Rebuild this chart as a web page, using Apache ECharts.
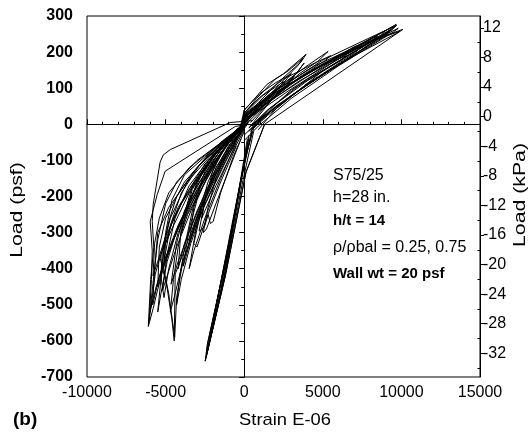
<!DOCTYPE html>
<html>
<head>
<meta charset="utf-8">
<script src="https://cdn.jsdelivr.net/npm/echarts@6/dist/echarts.min.js"></script>
<style>
html,body{margin:0;padding:0;background:#fff;}
#chart{width:532px;height:432px;}
</style>
</head>
<body>
<div id="chart"></div>
<script>
// ---- axis ticks ----
const xTicks = [-10000, -5000, 0, 5000, 10000, 15000];
const psfTicks = [-700, -600, -500, -400, -300, -200, -100, 0, 100, 200, 300];
const kpaTicks = [-32, -28, -24, -20, -16, -12, -8, -4, 0, 4, 8, 12];
const kpaMinor = [-34, -30, -26, -22, -18, -14, -10, -6, -2, 2, 6, 10];

// ---- hysteresis traces: [strain E-06, load psf] ----
const pos01 = [[-300,-25],[0,12],[2000,75],[5000,160],[8000,235],[9670,277],[9300,258],[6000,165],[3000,80],[1000,15],[300,-20]];
const pos02 = [[-200,-10],[0,20],[2500,100],[6000,190],[9480,271],[9000,250],[5500,152],[2000,50],[700,0],[0,-30]];
const pos03 = [[-100,0],[0,25],[1500,75],[4000,140],[7000,215],[10100,263],[1300,0],[130,-130],[-1200,-420],[-2480,-656]];
const pos04 = [[-400,-30],[0,8],[3000,98],[6500,195],[9800,266],[9500,256],[6000,162],[3000,72],[900,-5],[0,-45]];
const pos05 = [[-300,-20],[0,22],[2000,88],[5000,168],[9160,252],[8800,240],[5000,138],[2000,48],[500,-12]];
const pos06 = [[-200,-10],[0,30],[800,72],[1970,125],[2800,148],[3750,183],[3400,162],[2500,122],[1000,52],[0,5]];
const pos07 = [[-100,5],[0,38],[1460,111],[2500,140],[3940,194],[3600,172],[2200,118],[800,55],[-100,10]];
const pos08 = [[0,15],[1500,80],[3000,130],[4100,165],[5340,202],[4700,175],[3500,140],[1500,60],[0,-5]];
const pos09 = [[0,10],[2500,95],[3820,170],[3400,145],[1800,70],[400,5]];
const pos10 = [[0,12],[3000,112],[6000,192],[7500,218],[7100,200],[4000,112],[1500,25],[500,-15]];
const pos11 = [[-200,-5],[0,18],[4000,142],[8500,245],[8200,234],[5000,148],[2000,42],[900,-15]];
const pos12 = [[-300,-15],[0,28],[2000,95],[4500,162],[7000,212],[9000,260],[8700,245],[6000,175],[3000,95],[500,-5]];
const pos13 = [[-200,0],[0,40],[1000,85],[2000,115],[3000,140],[2600,120],[1200,60],[0,10]];
const pos14 = [[0,0],[1200,60],[2200,100],[3200,135],[2800,110],[1600,60],[300,-10]];
const pos15 = [[-200,-5],[0,15],[3500,120],[7000,205],[9300,262],[9000,252],[6500,178],[3500,95],[1200,20],[400,-20]];
const pos16 = [[-100,5],[0,22],[3000,115],[5500,175],[8000,228],[9900,258],[9600,250],[7000,190],[4000,112],[1500,30],[600,-10]];
const pos17 = [[0,20],[1500,75],[4500,155],[6500,190],[6200,178],[4000,125],[1500,40],[300,-10]];
const pos18 = [[-100,10],[0,32],[1000,75],[2500,125],[4500,170],[5500,190],[5200,178],[3500,130],[1500,60],[0,5]];
const pos19 = [[0,25],[2000,92],[5000,178],[8000,240],[9700,274],[9400,262],[7000,200],[4000,120],[1500,40],[500,-5]];
const pos20 = [[-200,0],[0,28],[1200,80],[2500,118],[2200,100],[1000,45],[0,0]];

const neg01 = [[500,10],[-890,5],[-4700,-70],[-5150,-85],[-5350,-105],[-5790,-222],[-5850,-269],[-5750,-340],[-5950,-430],[-6100,-560],[-5790,-510],[-5530,-462],[-5150,-400],[-4500,-320],[-3500,-210],[-2000,-100],[-500,-20],[200,10]];
const neg02 = [[300,0],[-570,-6],[-5030,-130],[-5530,-194],[-5980,-269],[-5850,-350],[-5900,-430],[-6050,-545],[-5660,-415],[-5300,-360],[-4600,-290],[-3500,-190],[-2000,-90],[-500,-15],[300,5]];
const neg03 = [[200,0],[-250,-28],[-2000,-80],[-3630,-160],[-4700,-260],[-5340,-371],[-4900,-454],[-4600,-540],[-4450,-600],[-4390,-415],[-3630,-330],[-2800,-230],[-1500,-110],[0,-10]];
const neg04 = [[100,0],[-1000,-40],[-2500,-110],[-4200,-230],[-5000,-320],[-5200,-380],[-4800,-470],[-4420,-590],[-4300,-480],[-3900,-380],[-3000,-260],[-1800,-140],[-500,-40],[200,5]];
const neg05 = [[0,0],[-1500,-50],[-3000,-120],[-4800,-230],[-5500,-300],[-5700,-400],[-5820,-500],[-5450,-430],[-5000,-370],[-4000,-270],[-2500,-150],[-1000,-50],[200,5]];
const neg06 = [[0,0],[-1200,-50],[-2500,-120],[-3800,-240],[-4300,-330],[-4650,-443],[-4200,-380],[-3500,-300],[-2500,-190],[-1200,-80],[100,0]];
const neg07 = [[0,-5],[-1000,-50],[-2000,-110],[-3000,-210],[-3500,-290],[-3880,-393],[-3400,-320],[-2600,-220],[-1500,-120],[-300,-25]];
const neg08 = [[0,-10],[-800,-50],[-1800,-120],[-2500,-210],[-2870,-296],[-2700,-292],[-2500,-280],[-2290,-250],[-2150,-275],[-1970,-269],[-1500,-190],[-700,-90],[0,-20]];
const neg09 = [[0,0],[-1500,-55],[-3200,-130],[-4300,-200],[-4800,-270],[-5210,-352],[-5300,-420],[-5100,-480],[-4800,-400],[-4200,-300],[-3000,-190],[-1500,-80],[0,0]];
const neg10 = [[0,0],[-1500,-70],[-2600,-150],[-3200,-230],[-3500,-330],[-3100,-270],[-2200,-170],[-1000,-70],[0,-5]];
const neg11 = [[0,5],[-1800,-70],[-3300,-170],[-4000,-280],[-4200,-400],[-3800,-330],[-3000,-240],[-1800,-130],[-600,-40]];
const neg12 = [[0,0],[-2000,-70],[-3800,-160],[-5000,-260],[-5400,-340],[-5500,-450],[-5200,-400],[-4600,-330],[-3600,-230],[-2000,-110],[-500,-20]];
const neg13 = [[0,0],[-2000,-90],[-3300,-180],[-4000,-300],[-3600,-250],[-2500,-160],[-1000,-50]];
const neg14 = [[0,0],[-1000,-60],[-2000,-140],[-2700,-230],[-3200,-330],[-3000,-340],[-2400,-260],[-1500,-160],[-500,-60]];
const neg15 = [[200,5],[-1500,-60],[-2500,-130],[-3200,-220],[-3700,-320],[-4100,-420],[-4300,-500],[-4000,-430],[-3400,-330],[-2500,-220],[-1300,-110],[0,-10]];
const neg16 = [[0,0],[-2500,-90],[-3800,-140],[-4600,-210],[-5000,-300],[-5300,-430],[-5500,-520],[-5300,-470],[-4900,-380],[-4200,-280],[-3000,-170],[-1500,-70],[0,0]];
const neg17 = [[100,0],[-3000,-100],[-4300,-160],[-5000,-220],[-5500,-320],[-5800,-440],[-6000,-520],[-5600,-450],[-5100,-380],[-4300,-290],[-3000,-180],[-1500,-80],[0,0]];
const neg18 = [[0,-5],[-1200,-60],[-2000,-130],[-2500,-210],[-2700,-260],[-2500,-240],[-1800,-170],[-900,-90],[0,-15]];
const neg19 = [[0,0],[-1500,-80],[-2300,-160],[-2900,-250],[-3300,-350],[-3500,-400],[-3200,-350],[-2500,-260],[-1500,-150],[-500,-50]];
const neg20 = [[0,0],[-2200,-95],[-3500,-170],[-4400,-260],[-4900,-360],[-5200,-460],[-4900,-420],[-4300,-340],[-3300,-230],[-2000,-120],[-500,-20]];
const neg21 = [[0,5],[-1800,-80],[-3000,-160],[-3800,-260],[-4200,-340],[-4500,-430],[-4700,-520],[-4400,-470],[-3900,-380],[-3000,-270],[-1700,-150],[-300,-25]];
const neg22 = [[200,5],[-3500,-120],[-4800,-190],[-5400,-260],[-5700,-330],[-5800,-420],[-5500,-380],[-5000,-310],[-4000,-220],[-2500,-120],[-800,-30]];
const neg23 = [[0,0],[-1000,-70],[-1800,-150],[-2300,-230],[-2600,-300],[-2400,-290],[-1800,-220],[-1000,-130],[-200,-40]];
const neg24 = [[0,0],[-2800,-110],[-4000,-190],[-4700,-280],[-5100,-380],[-5000,-330],[-4500,-260],[-3500,-180],[-2000,-90],[-400,-10]];

const st01 = [[1300,0],[100,-135],[-1200,-420],[-2480,-656],[-2350,-610],[-1100,-365],[-100,-130],[500,-20]];
const st02 = [[500,-10],[-150,-150],[-1300,-435],[-2420,-645],[-2300,-602],[-1000,-345],[0,-105],[700,5]];
const st03 = [[300,-30],[-250,-165],[-1400,-450],[-2350,-632],[-2200,-585],[-900,-315],[100,-85]];
const st04 = [[200,-40],[-350,-185],[-1500,-460],[-2200,-600],[-2100,-570],[-800,-290],[200,-60]];
const st05 = [[600,-20],[-100,-160],[-1100,-390],[-2000,-560],[-1900,-530],[-700,-260],[300,-40]];

const traces = [pos01,pos02,pos03,pos04,pos05,pos06,pos07,pos08,pos09,pos10,pos11,pos12,pos13,pos14,pos15,pos16,pos17,pos18,pos19,pos20,
  neg01,neg02,neg03,neg04,neg05,neg06,neg07,neg08,neg09,neg10,neg11,neg12,neg13,neg14,neg15,neg16,neg17,neg18,neg19,neg20,neg21,neg22,neg23,neg24,
  st01,st02,st03,st04,st05];

const FONT = '"Liberation Sans", Arial, sans-serif';
const INK = '#000';

const chart = echarts.init(document.getElementById('chart'), null, {renderer: 'canvas'});

const series = traces.map((t) => ({
  type: 'line',
  data: t,
  xAxisIndex: 0,
  yAxisIndex: 0,
  showSymbol: false,
  symbol: 'none',
  silent: true,
  animation: false,
  lineStyle: {color: INK, width: 1},
  z: 3
}));
series.push({
  type: 'line', data: [], xAxisIndex: 0, yAxisIndex: 0, silent: true, animation: false,
  markLine: {
    silent: true, symbol: 'none', animation: false,
    label: {show: false},
    lineStyle: {color: INK, width: 1, type: 'solid'},
    data: [{xAxis: 0}, {yAxis: 0}]
  }
});

const option = {
  backgroundColor: '#fff',
  animation: false,
  grid: {left: 87, top: 16, width: 393, height: 361, show: true, borderColor: INK, borderWidth: 1, backgroundColor: 'transparent', outerBoundsMode: 'none', containLabel: false},
  xAxis: [{
    type: 'value', min: -10000, max: 15000, interval: 5000,
    axisLine: {show: true, lineStyle: {color: INK, width: 1}},
    axisTick: {show: true, inside: true, length: 5, lineStyle: {color: INK}},
    minorTick: {show: true, splitNumber: 5, length: 2.5, lineStyle: {color: INK}},
    splitLine: {show: false},
    axisLabel: {show: true, margin: 8, color: INK, fontFamily: FONT, fontSize: 16, formatter: (v) => String(v)}
  }],
  yAxis: [{
    type: 'value', position: 'left', min: -700, max: 300, interval: 100,
    axisLine: {show: true, lineStyle: {color: INK, width: 1}},
    axisTick: {show: true, inside: false, length: 5, lineStyle: {color: INK}},
    minorTick: {show: true, splitNumber: 2, length: 3, lineStyle: {color: INK}},
    splitLine: {show: false},
    axisLabel: {show: true, margin: 14, color: INK, fontFamily: FONT, fontSize: 16, fontWeight: 'bold', formatter: (v) => String(v)}
  }, {
    type: 'value', position: 'right', min: -35.2, max: 13.6,
    axisLine: {show: true, lineStyle: {color: INK, width: 1}},
    axisTick: {show: true, inside: false, length: 4, customValues: kpaTicks, lineStyle: {color: INK}},
    splitLine: {show: false},
    axisLabel: {show: true, margin: 3, color: INK, fontFamily: FONT, fontSize: 16, customValues: kpaTicks, formatter: (v) => String(v)}
  }, {
    type: 'value', position: 'right', min: -35.2, max: 13.6,
    axisLine: {show: false},
    axisTick: {show: true, inside: true, length: 2.5, customValues: kpaMinor, lineStyle: {color: INK}},
    splitLine: {show: false},
    axisLabel: {show: false}
  }],
  series: series,
  graphic: [
    {type: 'text', x: 17, y: 210, rotation: Math.PI / 2, scaleX: 1.25, style: {text: 'Load (psf)', font: '17px ' + FONT, fill: INK, textAlign: 'center', textVerticalAlign: 'middle'}},
    {type: 'text', x: 520, y: 195, rotation: Math.PI / 2, scaleX: 1.25, style: {text: 'Load (kPa)', font: '17px ' + FONT, fill: INK, textAlign: 'center', textVerticalAlign: 'middle'}},
    {type: 'text', x: 285, y: 420, scaleX: 1.08, style: {text: 'Strain E-06', font: '17px ' + FONT, fill: INK, textAlign: 'center', textVerticalAlign: 'middle'}},
    {type: 'text', x: 13, y: 420, style: {text: '(b)', font: 'bold 19px ' + FONT, fill: INK, textAlign: 'left', textVerticalAlign: 'middle'}},
    {type: 'text', x: 333, y: 176, style: {text: 'S75/25', font: '16px ' + FONT, fill: INK, textAlign: 'left', textVerticalAlign: 'middle'}},
    {type: 'text', x: 333, y: 198, style: {text: 'h=28 in.', font: '16px ' + FONT, fill: INK, textAlign: 'left', textVerticalAlign: 'middle'}},
    {type: 'text', x: 333, y: 221, style: {text: 'h/t = 14', font: 'bold 15px ' + FONT, fill: INK, textAlign: 'left', textVerticalAlign: 'middle'}},
    {type: 'text', x: 333, y: 248, style: {text: 'ρ/ρbal = 0.25, 0.75', font: '16px ' + FONT, fill: INK, textAlign: 'left', textVerticalAlign: 'middle'}},
    {type: 'text', x: 333, y: 274, style: {text: 'Wall wt = 20 psf', font: 'bold 15px ' + FONT, fill: INK, textAlign: 'left', textVerticalAlign: 'middle'}}
  ]
};
chart.setOption(option);
</script>
</body>
</html>
